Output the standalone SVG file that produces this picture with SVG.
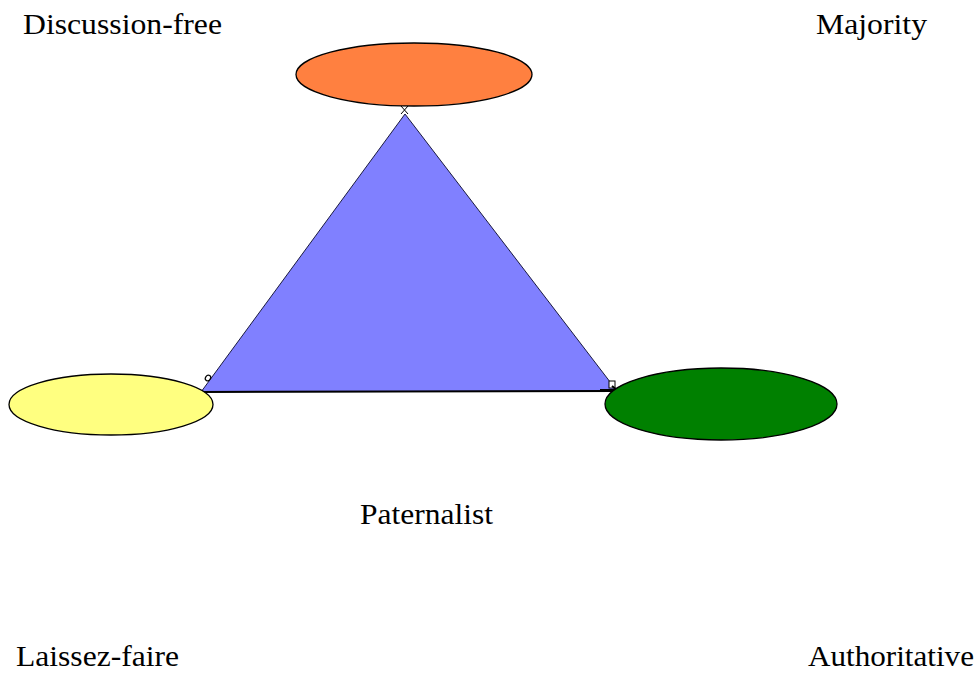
<svg xmlns="http://www.w3.org/2000/svg" width="978" height="674" viewBox="0 0 978 674">
  <style>
    .lbl { font-family: "Liberation Serif", "Times New Roman", serif; font-size: 29px; fill: #000; }
    .node { stroke: #000; stroke-width: 1.3; }
    .tick { fill: none; stroke: #000; stroke-width: 1; }
  </style>
  <rect width="978" height="674" fill="#fff"/>

  <!-- central triangle -->
  <g id="triangle">
    <polygon points="405,114 201,392 617,391" fill="#8080ff" stroke="#1a1a40" stroke-width="1"/>
    <line x1="201" y1="392" x2="617" y2="391" stroke="#000" stroke-width="2"/>
  </g>

  <g id="connectors">
    <!-- small vertex handles -->
    <path class="tick" d="M401,106 L408,114 M408,106 L401,114"/>
    <ellipse cx="208" cy="378" rx="2.5" ry="3" fill="#fff" stroke="#000" stroke-width="1.2" transform="rotate(35 208 378)"/>
    <rect x="609" y="381" width="6" height="7" fill="#fff" stroke="#000" stroke-width="1"/>
    <path d="M600,390 L622,390 M612,386 L622,394 M622,386 L612,394" stroke="#000" stroke-width="2" fill="none"/>
  </g>

  <g id="node-top">
    <ellipse class="node" cx="414" cy="74.5" rx="118" ry="31.5" fill="#ff8040"/>
  </g>
  <g id="node-left">
    <ellipse class="node" cx="111" cy="404.5" rx="102" ry="30.5" fill="#ffff80"/>
  </g>
  <g id="node-right">
    <ellipse class="node" cx="721" cy="404" rx="116" ry="36" fill="#008000"/>
  </g>

  <g id="labels">
    <text class="lbl" x="23" y="34" textLength="199" lengthAdjust="spacingAndGlyphs">Discussion-free</text>
    <text class="lbl" x="816" y="34" textLength="111" lengthAdjust="spacingAndGlyphs">Majority</text>
    <text class="lbl" x="360" y="524" textLength="133" lengthAdjust="spacingAndGlyphs">Paternalist</text>
    <text class="lbl" x="16" y="666" textLength="163" lengthAdjust="spacingAndGlyphs">Laissez-faire</text>
    <text class="lbl" x="808" y="666" textLength="166" lengthAdjust="spacingAndGlyphs">Authoritative</text>
  </g>
</svg>
